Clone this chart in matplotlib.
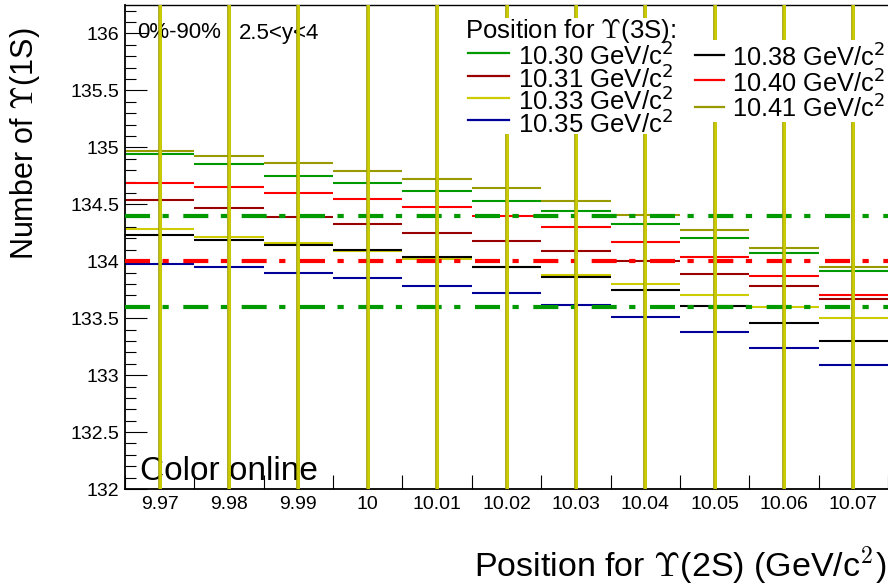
import matplotlib
matplotlib.use('Agg')
import matplotlib.pyplot as plt
from matplotlib.lines import Line2D
from matplotlib.patches import Rectangle

plt.rcParams['font.family'] = ['Liberation Sans', 'DejaVu Sans']
plt.rcParams['mathtext.fontset'] = 'cm'

# ---------------- data ----------------
upsilon2s_positions = [9.97, 9.98, 9.99, 10.00, 10.01, 10.02, 10.03, 10.04, 10.05, 10.06, 10.07]
tick_labels = ['9.97', '9.98', '9.99', '10', '10.01', '10.02', '10.03', '10.04', '10.05', '10.06', '10.07']
bin_width = 0.01

n_1030 = [134.94, 134.85, 134.75, 134.69, 134.62, 134.53, 134.44, 134.33, 134.20, 134.07, 133.91]
n_1031 = [134.54, 134.47, 134.39, 134.33, 134.25, 134.18, 134.09, 134.00, 133.89, 133.78, 133.67]
n_1033 = [134.28, 134.21, 134.16, 134.09, 134.02, 133.95, 133.88, 133.80, 133.70, 133.60, 133.50]
n_1035 = [133.98, 133.95, 133.90, 133.85, 133.78, 133.72, 133.62, 133.51, 133.38, 133.24, 133.09]
n_1038 = [134.23, 134.19, 134.14, 134.10, 134.04, 133.95, 133.86, 133.75, 133.61, 133.46, 133.30]
n_1040 = [134.69, 134.65, 134.60, 134.55, 134.48, 134.40, 134.30, 134.17, 134.04, 133.87, 133.70]
n_1041 = [134.97, 134.92, 134.86, 134.79, 134.72, 134.64, 134.53, 134.41, 134.27, 134.12, 133.95]

series_values = [n_1030, n_1031, n_1033, n_1035, n_1038, n_1040, n_1041]
series_labels = ['10.30 GeV/c$^{2}$', '10.31 GeV/c$^{2}$', '10.33 GeV/c$^{2}$', '10.35 GeV/c$^{2}$',
                 '10.38 GeV/c$^{2}$', '10.40 GeV/c$^{2}$', '10.41 GeV/c$^{2}$']
series_colors = ['#009900', '#990000', '#cccc00', '#000099', '#000000', '#ff0000', '#999900']

error_size = 5.0          # statistical errors exceed the plotted range
reference_level = 134.0
band_half_width = 0.4

# ---------------- figure ----------------
W, H = 888, 587
fig = plt.figure(figsize=(W / 100, H / 100), dpi=100)
ax = fig.add_axes([125 / W, 1 - 489 / H, 763 / W, 484 / H])
ax.set_xlim(9.965, 10.075)
ax.set_ylim(132, 136.25)

half = bin_width / 2
edges_lo = [c - half for c in upsilon2s_positions]
edges_hi = [c + half for c in upsilon2s_positions]

for vals, col in zip(series_values, series_colors):
    ax.hlines(vals, edges_lo, edges_hi, colors=col, lw=1.5, zorder=2)

ls_dd = (0, (6, 3, 1.5, 3.5))
ax.axhline(reference_level + band_half_width, color='#009900', lw=3, ls=ls_dd, zorder=3)
ax.axhline(reference_level, color='#ff0000', lw=3, ls=ls_dd, zorder=3)
ax.axhline(reference_level - band_half_width, color='#009900', lw=3, ls=ls_dd, zorder=3)

ax.errorbar(upsilon2s_positions, n_1041, yerr=error_size, fmt='none',
            ecolor='#999900', elinewidth=2.6, capsize=0, zorder=4)
ax.errorbar(upsilon2s_positions, n_1033, yerr=error_size, fmt='none',
            ecolor='#cccc00', elinewidth=1.9, capsize=0, zorder=4)

# ticks
ax.set_xticks(upsilon2s_positions, tick_labels)
ax.set_xticks(edges_lo + [edges_hi[-1]], minor=True)
ax.tick_params(axis='x', which='major', length=0, labelsize=14, pad=5)
ax.tick_params(axis='x', which='minor', length=10, width=0.8, direction='in')
ax.set_yticks([132 + 0.5 * i for i in range(9)])
ax.set_yticklabels(['132', '132.5', '133', '133.5', '134', '134.5', '135', '135.5', '136'])
ax.set_yticks([132 + 0.1 * i for i in range(43)], minor=True)
ax.tick_params(axis='y', which='major', length=16, width=0.8, direction='in', labelsize=14, pad=4)
ax.tick_params(axis='y', which='minor', length=8, width=0.8, direction='in')
ax.tick_params(which='both', top=False, right=False)

for s in ['left', 'bottom']:
    ax.spines[s].set_linewidth(1.3)
ax.spines['top'].set_linewidth(1.0)
ax.spines['right'].set_visible(False)

ax.set_ylabel(r'Number of $\Upsilon$(1S)', fontsize=22, va='bottom')
ax.yaxis.set_label_coords((42 - 125) / 763, (489 - 144) / 484)
ax.set_xlabel(r'Position for $\Upsilon$(2S) (GeV/c$^{\mathsf{2}}$)', fontsize=24.5, ha='right', va='top')
ax.xaxis.set_label_coords((886 - 125) / 763, (489 - 544) / 484)

ax.text((137 - 125) / 763, (489 - 33) / 484, '0%-90%', transform=ax.transAxes,
        fontsize=16, va='center', ha='left')
ax.text((239 - 125) / 763, (489 - 33) / 484, '2.5<y<4', transform=ax.transAxes,
        fontsize=16, va='center', ha='left')
ax.text((140 - 125) / 763, (489 - 480) / 484, 'Color online', transform=ax.transAxes,
        fontsize=24, va='baseline', ha='left')

# ---------------- legend (two boxes) ----------------
def fx(px):
    return px / W

def fy(py):
    return 1 - py / H

fig.add_artist(Rectangle((fx(455), fy(134)), (690 - 455) / W, (134 - 18) / H,
                         transform=fig.transFigure, facecolor='white', edgecolor='none', zorder=5))
fig.add_artist(Rectangle((fx(690), fy(122)), (888 - 690) / W, (122 - 40) / H,
                         transform=fig.transFigure, facecolor='white', edgecolor='none', zorder=5))
fig.text(fx(465), fy(38), r'Position for $\Upsilon$(3S):', fontsize=18.5, va='baseline', zorder=7)

left_handle_y = [53, 76, 98, 120]
left_text_y = [65, 88, 110, 133]
for i in range(4):
    fig.add_artist(Line2D([fx(468), fx(509)], [fy(left_handle_y[i])] * 2, transform=fig.transFigure,
                          color=series_colors[i], lw=1.6, zorder=6))
    fig.text(fx(518), fy(left_text_y[i]), series_labels[i], fontsize=18.5, va='baseline', zorder=7,
             math_fontfamily='dejavusans')

right_handle_y = [55, 80, 107]
right_text_y = [67, 93, 118]
for j in range(3):
    i = 4 + j
    fig.add_artist(Line2D([fx(695), fx(724)], [fy(right_handle_y[j])] * 2, transform=fig.transFigure,
                          color=series_colors[i], lw=1.6, zorder=6))
    fig.text(fx(732), fy(right_text_y[j]), series_labels[i], fontsize=18.3, va='baseline', zorder=7,
             math_fontfamily='dejavusans')

fig.savefig('out.png', dpi=100)
